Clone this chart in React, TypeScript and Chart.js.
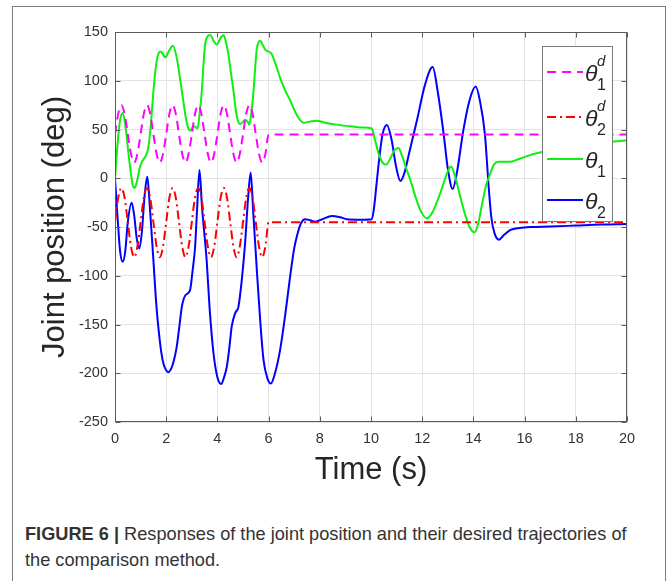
import React, { useEffect, useRef } from "react";
import { Chart, registerables } from "chart.js";

Chart.register(...registerables);

// ---------- data ----------
const desiredTime = [
  0, 0.125, 0.25, 0.375, 0.5, 0.625, 0.75, 0.875,
  1, 1.125, 1.25, 1.375, 1.5, 1.625, 1.75, 1.875,
  2, 2.125, 2.25, 2.375, 2.5, 2.625, 2.75, 2.875,
  3, 3.125, 3.25, 3.375, 3.5, 3.625, 3.75, 3.875,
  4, 4.125, 4.25, 4.375, 4.5, 4.625, 4.75, 4.875,
  5, 5.125, 5.25, 5.375, 5.5, 5.625, 5.75, 5.875,
  6, 20,
];
const theta1d = [
  45, 66, 75, 66, 45, 25, 16, 25,
  45, 66, 75, 66, 45, 25, 16, 25,
  45, 66, 75, 66, 45, 25, 16, 25,
  45, 66, 75, 66, 45, 25, 16, 25,
  45, 66, 75, 66, 45, 25, 16, 25,
  45, 66, 75, 66, 45, 25, 16, 25,
  45, 45,
];
const theta2d = [
  -45, -20, -10, -20, -45, -70, -81, -70,
  -45, -20, -10, -20, -45, -70, -81, -70,
  -45, -20, -10, -20, -45, -70, -81, -70,
  -45, -20, -10, -20, -45, -70, -81, -70,
  -45, -20, -10, -20, -45, -70, -81, -70,
  -45, -20, -10, -20, -45, -70, -81, -70,
  -45, -45,
];

const theta1Time = [
  0, 0.1, 0.2, 0.3, 0.4, 0.55, 0.7, 0.76, 0.85, 0.98,
  1.1, 1.2, 1.3, 1.4, 1.5, 1.6, 1.7, 1.78, 1.88, 1.96,
  2.1, 2.26, 2.4, 2.48, 2.58, 2.67, 2.78, 2.87, 2.95, 3.05,
  3.12, 3.22, 3.3, 3.39, 3.46, 3.52, 3.6, 3.72, 3.85, 3.98,
  4.1, 4.24, 4.33, 4.43, 4.53, 4.63, 4.72, 4.79, 4.89, 5.0,
  5.09, 5.18, 5.25, 5.33, 5.41, 5.48, 5.54, 5.62, 5.67, 5.8,
  5.9, 6.0, 6.13, 6.3, 6.45, 6.65, 6.84, 7.1, 7.36, 7.6,
  7.88, 8.2, 8.66, 9.3, 9.7, 10.03, 10.15, 10.29, 10.45, 10.59,
  10.75, 10.9, 11.07, 11.2, 11.35, 11.54, 11.75, 11.95, 12.19, 12.4,
  12.55, 12.71, 12.9, 13.05, 13.13, 13.25, 13.45, 13.65, 13.85, 14.05,
  14.2, 14.35, 14.5, 14.66, 14.8, 14.99, 15.2, 15.45, 15.8, 16.23,
  16.68, 17.5, 18.5, 19.48, 20,
];
const theta1 = [
  0, 35, 60, 67, 55, 20, -8, -10, -4, 12,
  19, 23, 31, 55, 89, 115, 128, 130, 127, 124,
  130, 136, 125, 113, 95, 79, 60, 51, 49, 53,
  53, 51, 65, 89, 118, 137, 145, 147, 141, 137,
  143, 147, 140, 127, 108, 89, 70, 60, 55.5, 58,
  60, 58, 55, 68, 89, 115, 133, 140, 141, 135,
  131, 130, 127, 115, 103, 90, 80, 65, 57, 58,
  59, 57, 55, 53, 52, 51, 40, 26, 16, 14,
  20, 28, 31, 24, 12, -2, -20, -34, -41, -35,
  -26, -15, 0, 10, 12, 5, -15, -35, -50, -55.5,
  -45, -25, -7, 5, 14, 17, 17, 17, 20, 24,
  27, 30, 34, 37.6, 39,
];

const theta2Time = [
  0, 0.1, 0.2, 0.3, 0.4, 0.5, 0.65, 0.75, 0.85, 0.95,
  1.05, 1.15, 1.26, 1.35, 1.5, 1.6, 1.69, 1.8, 1.89, 2.0,
  2.08, 2.2, 2.3, 2.41, 2.51, 2.61, 2.75, 2.93, 3.03, 3.13,
  3.2, 3.3, 3.4, 3.58, 3.7, 3.85, 4.0, 4.15, 4.25, 4.37,
  4.47, 4.56, 4.7, 4.82, 4.95, 5.08, 5.2, 5.3, 5.4, 5.54,
  5.67, 5.8, 5.95, 6.09, 6.25, 6.45, 6.65, 6.84, 7.0, 7.1,
  7.25, 7.43, 7.62, 7.82, 8.1, 8.47, 8.8, 9.06, 9.6, 10.03,
  10.12, 10.22, 10.33, 10.45, 10.62, 10.8, 10.98, 11.15, 11.3, 11.5,
  11.8, 12.1, 12.41, 12.6, 12.84, 13.0, 13.19, 13.35, 13.61, 13.85,
  14.09, 14.25, 14.45, 14.6, 14.7, 14.82, 15.0, 15.2, 15.45, 15.8,
  16.23, 17, 18, 19, 20,
];
const theta2 = [
  0, -40, -75, -85.6, -75, -45, -25, -38, -62, -72,
  -55, -20, 1.6, -25, -84, -125, -152, -177, -190, -197,
  -199, -195, -187, -173, -153, -132, -120, -115, -95, -70,
  -35, 8.5, -30, -84, -135, -180, -204, -211, -205, -193,
  -173, -152, -138, -132, -105, -67, -20, 6, -35, -94,
  -145, -186, -205, -210.6, -200, -176, -140, -101, -72, -60,
  -47, -42, -43, -44.5, -42, -38.7, -40, -42, -42.5, -42,
  -30, -5, 22, 45, 54.7, 40, 12, -2.8, 5, 27,
  60, 95, 114, 90, 45, 10, -11, 5, 49.6, 80,
  94, 80, 45, -10, -40, -56, -63, -58, -53, -51,
  -50, -49.5, -48.5, -47.5, -47,
];

const xTickStep = 2;
const yTickStep = 50;
const xTitle = "Time (s)";
const yTitle = "Joint position (deg)";

// ---------- layout ----------
const W = 672;
const H = 500;
const AREA = { left: 115, top: 32, right: 627, bottom: 422 };
const FONT = "'Liberation Sans', Arial, Helvetica, sans-serif";

const MAGENTA = "#ff00ff";
const RED = "#ff0000";
const GREEN = "#11ee11";
const BLUE = "#0000ff";
const DASH = [9, 6];
const DASHDOT = [9, 4, 2, 4];

const pts = (t: number[], v: number[]) => t.map((x, i) => ({ x, y: v[i] }));

const legendItems = [
  { color: MAGENTA, dash: DASH, sup: "d", sub: "1" },
  { color: RED, dash: DASHDOT, sup: "d", sub: "2" },
  { color: GREEN, dash: [] as number[], sup: "", sub: "1" },
  { color: BLUE, dash: [] as number[], sup: "", sub: "2" },
];

const decor = {
  id: "decor",
  afterDraw(chart: any) {
    const { ctx, chartArea: a, scales } = chart;
    const L = Math.round(a.left) + 0.5;
    const R = Math.round(a.right) - 0.5;
    const T = Math.round(a.top) + 0.5;
    const B = Math.round(a.bottom) - 0.5;
    ctx.save();
    // axes box
    ctx.strokeStyle = "#5a5a5a";
    ctx.lineWidth = 1;
    ctx.setLineDash([]);
    ctx.strokeRect(L, T, R - L, B - T);
    // inward ticks
    ctx.beginPath();
    scales.x.ticks.forEach((t: any) => {
      const px = Math.round(scales.x.getPixelForValue(t.value)) + 0.5;
      ctx.moveTo(px, B);
      ctx.lineTo(px, B - 5);
      ctx.moveTo(px, T);
      ctx.lineTo(px, T + 5);
    });
    scales.y.ticks.forEach((t: any) => {
      const py = Math.round(scales.y.getPixelForValue(t.value)) + 0.5;
      ctx.moveTo(L, py);
      ctx.lineTo(L + 5, py);
      ctx.moveTo(R, py);
      ctx.lineTo(R - 5, py);
    });
    ctx.stroke();

    // axis titles
    ctx.fillStyle = "#262626";
    ctx.font = `31px ${FONT}`;
    ctx.textAlign = "center";
    ctx.textBaseline = "middle";
    ctx.fillText(xTitle, (a.left + a.right) / 2, 470);
    ctx.save();
    ctx.translate(55, (a.top + a.bottom) / 2);
    ctx.rotate(-Math.PI / 2);
    ctx.fillText(yTitle, 0, 0);
    ctx.restore();

    // legend
    const lx = 542.5, ly = 46.5, lw = 70, lh = 175;
    ctx.fillStyle = "#ffffff";
    ctx.fillRect(lx, ly, lw, lh);
    ctx.strokeStyle = "#7a7a7a";
    ctx.lineWidth = 1;
    ctx.strokeRect(lx, ly, lw, lh);
    const rowY = [72, 117, 159, 200];
    legendItems.forEach((it, i) => {
      const y = rowY[i];
      ctx.strokeStyle = it.color;
      ctx.lineWidth = 2;
      ctx.setLineDash(it.dash);
      ctx.beginPath();
      ctx.moveTo(547, y);
      ctx.lineTo(583, y);
      ctx.stroke();
      ctx.setLineDash([]);
      ctx.fillStyle = "#262626";
      ctx.textAlign = "left";
      ctx.textBaseline = "middle";
      ctx.font = `italic 23px ${FONT}`;
      ctx.fillText("θ", 585, y + 3);
      if (it.sup) {
        ctx.font = `italic 15px ${FONT}`;
        ctx.fillText(it.sup, 597, y - 10);
      }
      ctx.font = `16px ${FONT}`;
      ctx.fillText(it.sub, 597, y + 14);
    });
    ctx.restore();
  },
};

export default function App() {
  const ref = useRef<HTMLCanvasElement | null>(null);

  useEffect(() => {
    if (!ref.current) return;
    const tickFont = { family: FONT, size: 14.5 };
    const chart = new Chart(ref.current, {
      type: "line",
      data: {
        datasets: [
          {
            data: pts(desiredTime, theta1d),
            borderColor: MAGENTA,
            borderDash: DASH,
          },
          {
            data: pts(desiredTime, theta2d),
            borderColor: RED,
            borderDash: DASHDOT,
          },
          {
            data: pts(theta1Time, theta1),
            borderColor: GREEN,
          },
          {
            data: pts(theta2Time, theta2),
            borderColor: BLUE,
          },
        ] as any,
      },
      options: {
        responsive: false,
        animation: false,
        devicePixelRatio: 1,
        layout: { padding: { top: AREA.top, right: W - AREA.right, left: 0, bottom: 0 } },
        plugins: { legend: { display: false }, tooltip: { enabled: false } },
        elements: {
          point: { radius: 0 },
          line: { borderWidth: 2, cubicInterpolationMode: "monotone", fill: false },
        },
        scales: {
          x: {
            type: "linear",
            min: 0,
            max: 20,
            ticks: {
              stepSize: xTickStep,
              color: "#333333",
              font: tickFont,
              padding: 8,
              autoSkip: false,
              maxRotation: 0,
            },
            grid: { color: "#e3e3e3", drawTicks: false },
            border: { display: false },
            afterFit: (s: any) => {
              s.height = H - AREA.bottom;
            },
          },
          y: {
            type: "linear",
            min: -250,
            max: 150,
            ticks: {
              stepSize: yTickStep,
              color: "#333333",
              font: tickFont,
              padding: 7,
            },
            grid: { color: "#e3e3e3", drawTicks: false },
            border: { display: false },
            afterFit: (s: any) => {
              s.width = AREA.left;
            },
          },
        },
      } as any,
      plugins: [decor],
    });
    return () => chart.destroy();
  }, []);

  return (
    <div
      style={{
        position: "fixed",
        left: 0,
        top: 0,
        width: W,
        height: 581,
        background: "#ffffff",
        overflow: "hidden",
      }}
    >
      <div
        style={{
          position: "absolute",
          left: 12,
          top: 6,
          width: 654,
          height: 640,
          border: "1px solid #7d7d7d",
          boxSizing: "border-box",
        }}
      />
      <canvas
        ref={ref}
        width={W}
        height={H}
        style={{ position: "absolute", left: 0, top: 0, width: W, height: H }}
      />
      <div
        style={{
          position: "absolute",
          left: 25,
          top: 521,
          width: 636,
          fontFamily: FONT,
          fontSize: 18.2,
          lineHeight: "26px",
          color: "#333333",
          whiteSpace: "nowrap",
        }}
      >
        <div>
          <b>FIGURE 6 |</b> Responses of the joint position and their desired trajectories of
        </div>
        <div>the comparison method.</div>
      </div>
    </div>
  );
}
